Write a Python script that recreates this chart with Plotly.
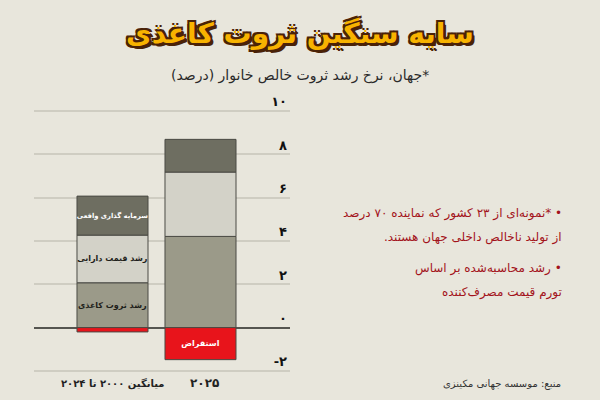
import plotly.graph_objects as go

# داده‌ها (درصد)
categories = ["میانگین ۲۰۰۰ تا ۲۰۲۴", "۲۰۲۵"]
paper_growth = [2.07, 4.21]      # رشد ثروت کاغذی
asset_growth = [2.2, 2.97]       # رشد قیمت دارایی
real_invest = [1.8, 1.51]        # سرمایه گذاری واقعی
borrowing = [-0.2, -1.48]        # استقراض

tick_vals = [10, 8, 6, 4, 2, 0, -2]
tick_text = ["۱۰", "۸", "۶", "۴", "۲", "۰", "-۲"]

RLM = "\u200f"
FONT = "DejaVu Sans"
BG = "#e8e6dc"
EDGE = "#4a4a44"

# اندازه صفحه و حاشیه‌ها
W, H = 600, 400
ML, MR, MT, MB = 34, 310, 85, 28
Y_RANGE = [-2.05, 11.2]


def px(x):
    return (x - ML) / (W - ML - MR)


def py(y):
    return (H - MB - y) / (H - MT - MB)


def rtl(s):
    return RLM + s + RLM


fig = go.Figure()

fig.add_bar(x=categories, y=paper_growth, name="paper",
            marker=dict(color="#9b9a89", line=dict(color=EDGE, width=1)),
            text=[rtl("رشد ثروت کاغذی"), ""],
            textfont=dict(color="#1e1e1a", size=8))
fig.add_bar(x=categories, y=asset_growth, name="asset",
            marker=dict(color="#d3d2c8", line=dict(color=EDGE, width=1)),
            text=[rtl("رشد قیمت دارایی"), ""],
            textfont=dict(color="#1e1e1a", size=8))
fig.add_bar(x=categories, y=real_invest, name="invest",
            marker=dict(color="#6e6e61", line=dict(color=EDGE, width=1)),
            text=[rtl("سرمایه گذاری واقعی"), ""],
            textfont=dict(color="white", size=6.8))
fig.add_bar(x=categories, y=borrowing, name="borrow",
            marker=dict(color="#e8141b", line=dict(color=EDGE, width=1)),
            text=["", rtl("استقراض")],
            textfont=dict(color="white", size=8))

fig.update_traces(width=0.807, textposition="inside", insidetextanchor="middle",
                  textangle=0, constraintext="none", hoverinfo="skip",
                  textfont=dict(family=FONT, weight="bold"))

fig.update_layout(
    width=W, height=H,
    margin=dict(l=ML, r=MR, t=MT, b=MB),
    barmode="relative",
    paper_bgcolor=BG, plot_bgcolor=BG,
    showlegend=False,
    font=dict(family=FONT, color="#222"),
)

fig.update_xaxes(range=[-0.892, 2.017], showgrid=False, showline=False,
                 showticklabels=False, ticks="")
fig.update_yaxes(range=Y_RANGE, side="right", ticklabelposition="inside top",
                 tickvals=tick_vals, ticktext=tick_text,
                 tickfont=dict(size=13, color="#111", family=FONT, weight="bold"),
                 showgrid=True, gridcolor="#cfcdc2", gridwidth=1.5,
                 zeroline=True, zerolinecolor="#555550", zerolinewidth=1.5,
                 showline=False, ticks="")

# برچسب دسته‌ها زیر میله‌ها
for c, shift, size in zip(categories, [0, 4], [10, 12]):
    fig.add_annotation(x=c, y=py(383), xref="x", yref="paper", showarrow=False,
                       xanchor="center", yanchor="middle", xshift=shift, text=rtl(c),
                       font=dict(size=size, color="#222", family=FONT, weight="bold"))

# عنوان
fig.add_annotation(x=px(300), y=py(34), xref="paper", yref="paper", showarrow=False,
                   xanchor="center", yanchor="middle", text=rtl("سایه سنگین ثروت کاغذی"),
                   font=dict(size=28, color="#f8b300", family=FONT, weight="bold",
                             shadow="2px 2px 0 #4a2207, -2px -2px 0 #4a2207, 2px -2px 0 #4a2207, -2px 2px 0 #4a2207, 3px 3px 0 #4a2207"))
fig.add_annotation(x=px(300), y=py(75), xref="paper", yref="paper", showarrow=False,
                   xanchor="center", yanchor="middle",
                   text=rtl("*جهان، نرخ رشد ثروت خالص خانوار (درصد)"),
                   font=dict(size=14, color="#2a2a2a", family=FONT))

# یادداشت‌ها
notes = [
    ("• *نمونه‌ای از ۲۳ کشور که نماینده ۷۰ درصد", 213),
    ("از تولید ناخالص داخلی جهان هستند.", 237),
    ("• رشد محاسبه‌شده بر اساس", 268),
    ("تورم قیمت مصرف‌کننده", 292),
]
for txt, y in notes:
    fig.add_annotation(x=px(564), y=py(y), xref="paper", yref="paper", showarrow=False,
                       xanchor="right", yanchor="middle", text=rtl(txt),
                       font=dict(size=12, color="#a3131b", family=FONT))

fig.add_annotation(x=px(563), y=py(384), xref="paper", yref="paper", showarrow=False,
                   xanchor="right", yanchor="middle", text=rtl("منبع: موسسه جهانی مکینزی"),
                   font=dict(size=10, color="#333", family=FONT))

fig.write_html("out.html", config={"displayModeBar": False},
               post_script="document.body.style.margin='0';")
